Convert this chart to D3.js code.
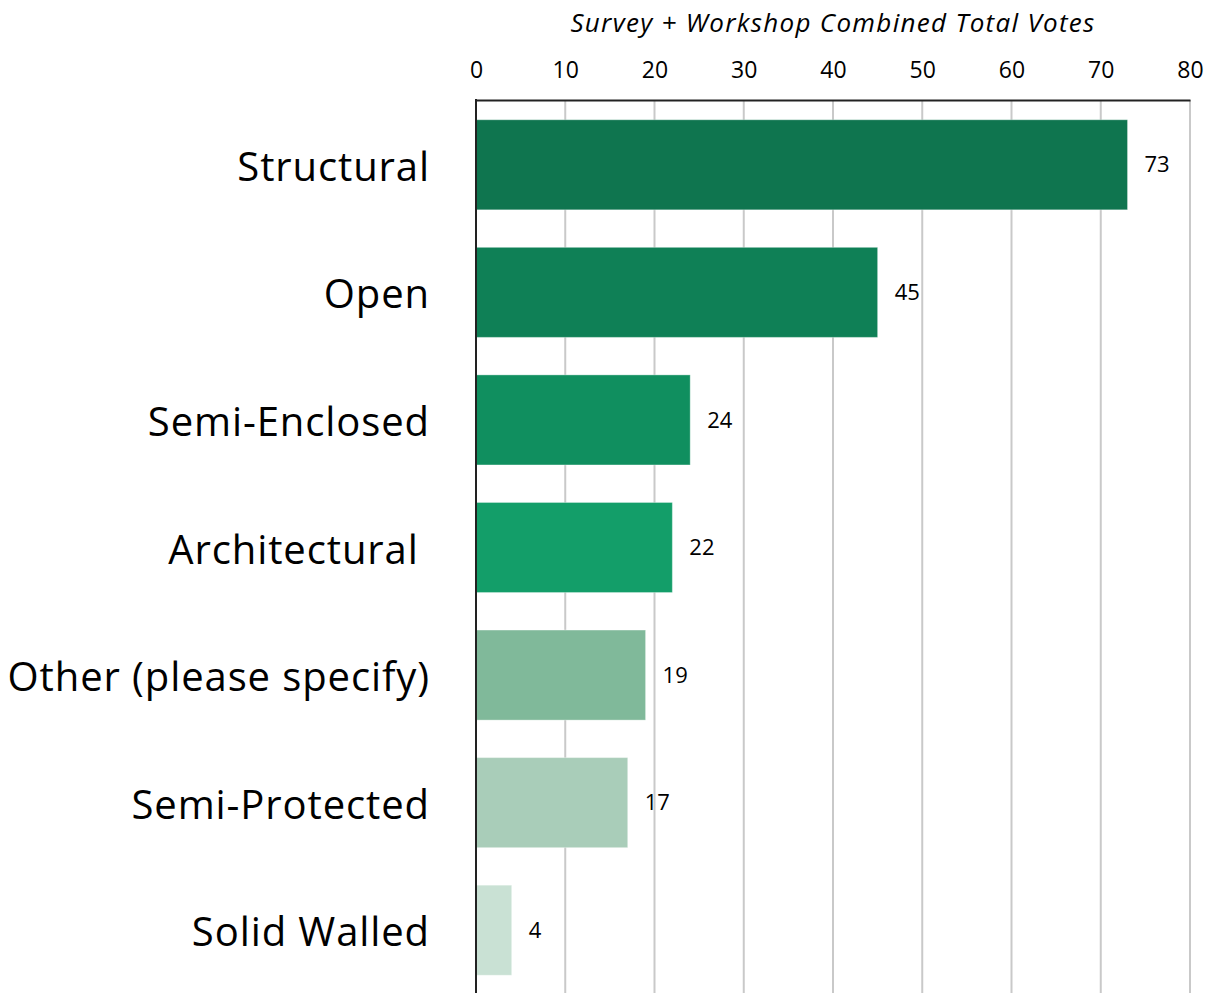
<!DOCTYPE html>
<html>
<head>
<meta charset="utf-8">
<script src="https://cdn.jsdelivr.net/npm/d3@7"></script>
<style>
  html, body { margin: 0; padding: 0; background: #fff; }
  svg { display: block; }
  text { font-family: "Open Sans", "Noto Sans", sans-serif; fill: #000; }
</style>
</head>
<body>
<svg id="chart" width="1210" height="995"></svg>
<script>
// Shelter type preferences
const categories = ["Structural", "Open", "Semi-Enclosed", "Architectural ", "Other (please specify)", "Semi-Protected", "Solid Walled"];
const votes = [73, 45, 24, 22, 19, 17, 4];
const barColors = ["#0f754f", "#0f8056", "#108f5f", "#139e69", "#80b99a", "#a9cdb9", "#c9e1d4"];
const xTicks = [0, 10, 20, 30, 40, 50, 60, 70, 80];
const axisTitle = "Survey + Workshop Combined Total Votes";

const svg = d3.select("#chart");
const margin = { top: 100, left: 476, right: 20, bottom: 2 };
const W = 1210, H = 995;

const x = d3.scaleLinear().domain([0, 80]).range([margin.left, W - margin.right]);
const y = d3.scaleBand().domain(categories).range([margin.top, H - margin.bottom]).paddingInner(0.294).paddingOuter(0.147);

// vertical gridlines
svg.append("g").selectAll("line").data(xTicks.filter(d => d > 0)).join("line")
  .attr("x1", d => x(d)).attr("x2", d => x(d))
  .attr("y1", margin.top).attr("y2", H - margin.bottom)
  .attr("stroke", "#c9c9c9").attr("stroke-width", 2);

// bars
svg.append("g").selectAll("rect").data(categories).join("rect")
  .attr("x", x(0))
  .attr("y", d => y(d) + 1)
  .attr("width", (d, i) => x(votes[i]) - x(0))
  .attr("height", y.bandwidth())
  .attr("fill", (d, i) => barColors[i])
  .attr("stroke", "rgba(255,255,255,0.35)")
  .attr("stroke-width", 1);

// value labels
svg.append("g").selectAll("text").data(categories).join("text")
  .attr("x", (d, i) => x(votes[i]) + 17)
  .attr("y", d => y(d) + y.bandwidth() / 2 + 1)
  .attr("dy", "0.35em")
  .attr("font-size", 22)
  .text((d, i) => votes[i]);

// top axis
const axis = d3.axisTop(x).tickValues(xTicks).tickSize(0).tickPadding(22);
const ga = svg.append("g").attr("transform", `translate(0,${margin.top})`).call(axis);
ga.select(".domain").attr("stroke", "#222").attr("stroke-width", 2);
ga.selectAll("text").attr("font-size", 23).attr("font-family", "'Open Sans', sans-serif").attr("fill", "#000");

// left axis line
svg.append("line")
  .attr("x1", x(0)).attr("x2", x(0))
  .attr("y1", margin.top - 1).attr("y2", H - margin.bottom)
  .attr("stroke", "#222").attr("stroke-width", 2);

// category labels
svg.append("g").selectAll("text").data(categories).join("text")
  .attr("x", 430)
  .attr("y", d => y(d) + y.bandwidth() / 2 + 3)
  .attr("dy", "0.35em")
  .attr("text-anchor", "end")
  .attr("font-size", 40)
  .attr("letter-spacing", 0.9)
  .style("white-space", "pre")
  .attr("xml:space", "preserve")
  .text(d => d);

// axis title
svg.append("text")
  .attr("x", 833).attr("y", 32)
  .attr("text-anchor", "middle")
  .attr("font-size", 26)
  .attr("letter-spacing", 1.3)
  .attr("font-style", "italic")
  .text(axisTitle);
</script>
</body>
</html>
